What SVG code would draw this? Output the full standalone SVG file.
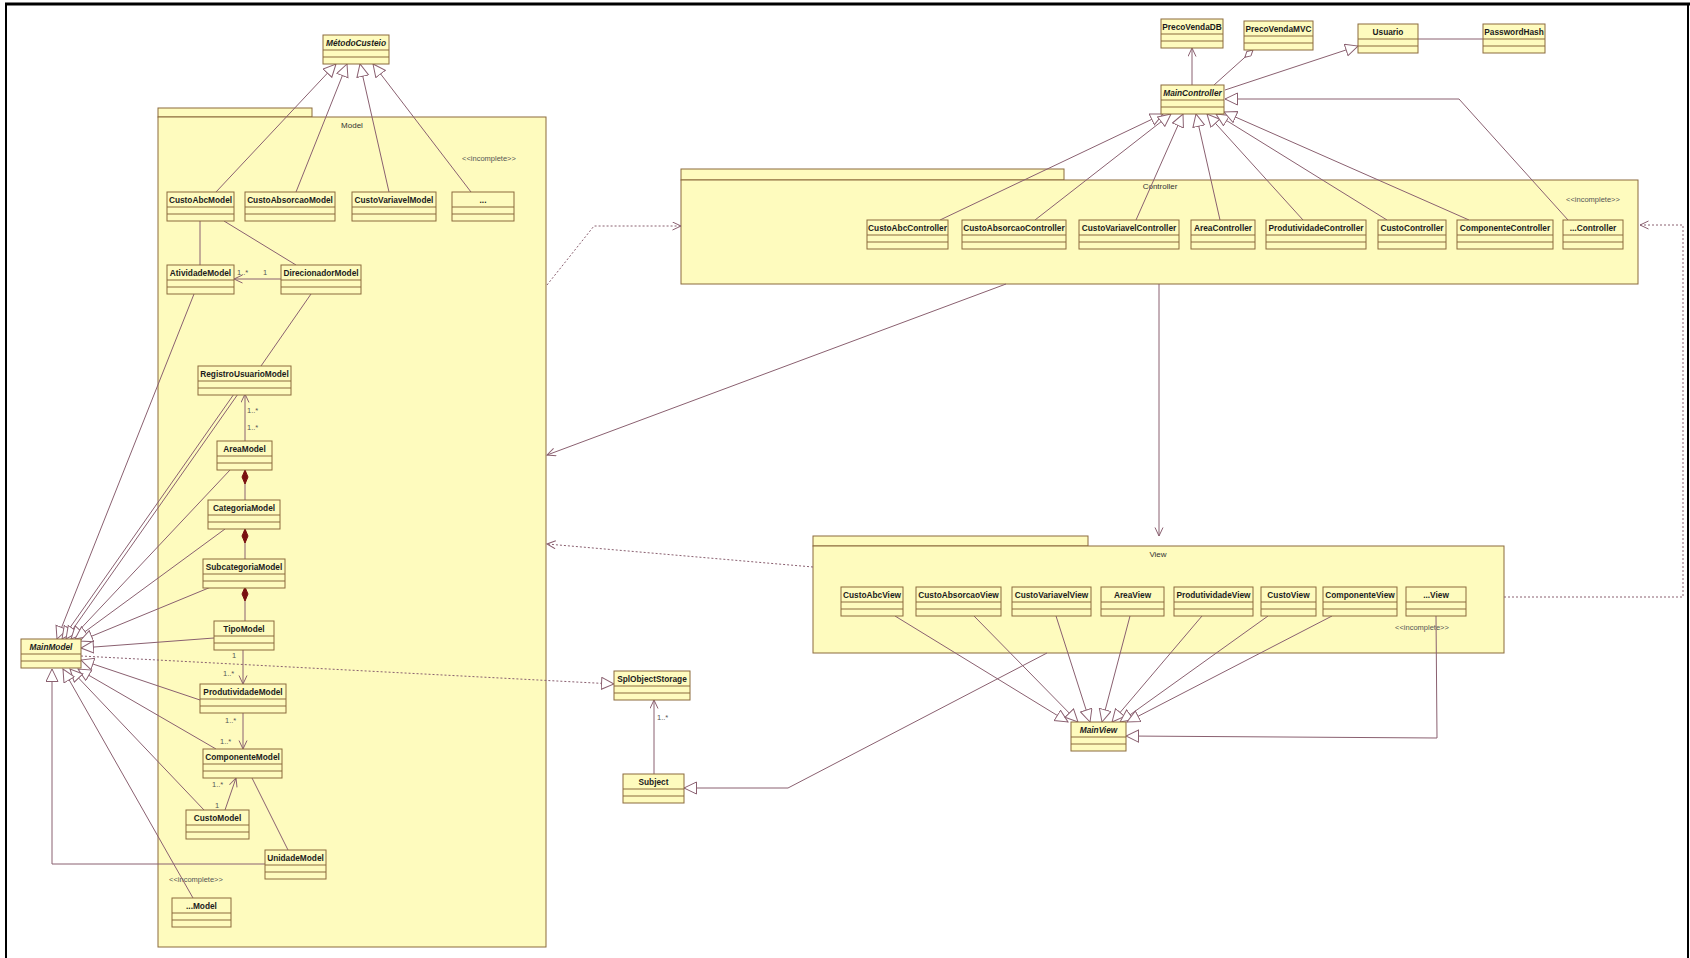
<svg xmlns="http://www.w3.org/2000/svg" width="1690" height="958" viewBox="0 0 1690 958">
<defs>
<style>
.pkg{fill:#fefbbe;stroke:#8b6b3d;stroke-width:1}
.cls rect{fill:#fefbbe;stroke:#8b6b3d;stroke-width:1}
.cls line{stroke:#8b6b3d;stroke-width:1}
.cn{font-family:"Liberation Sans",Arial,sans-serif;font-weight:bold;font-size:8.3px;fill:#1c1c1c;text-anchor:middle}
.it{font-style:italic}
.pl{font-family:"Liberation Sans",Arial,sans-serif;font-size:8px;fill:#333;text-anchor:middle}
.st{font-family:"Liberation Sans",Arial,sans-serif;font-size:7.5px;fill:#555;text-anchor:middle}
.ml{font-family:"Liberation Sans",Arial,sans-serif;font-size:7.5px;fill:#555}
.c{fill:none;stroke:#8a6070;stroke-width:1}
.d{stroke-dasharray:2,2}
.gen{marker-end:url(#tri)}
.arr{marker-end:url(#open)}
</style>
<marker id="tri" markerUnits="userSpaceOnUse" markerWidth="14" markerHeight="14" refX="13" refY="6.5" orient="auto" viewBox="0 0 14 14"><path d="M0.5,0.5 L13,6.5 L0.5,12.5 z" fill="#ffffff" stroke="#8a6070" stroke-width="1"/></marker>
<marker id="open" markerUnits="userSpaceOnUse" markerWidth="10" markerHeight="10" refX="9" refY="4.5" orient="auto" viewBox="0 0 10 10"><path d="M0.5,0.5 L9,4.5 L0.5,8.5" fill="none" stroke="#8a6070" stroke-width="1"/></marker>
<marker id="comp" markerUnits="userSpaceOnUse" markerWidth="16" markerHeight="8" refX="0.5" refY="3.5" orient="auto" viewBox="0 0 16 8"><path d="M0.5,3.5 L7.5,0.5 L14.5,3.5 L7.5,6.5 z" fill="#7a1010" stroke="#7a1010" stroke-width="1"/></marker>
<marker id="agg" markerUnits="userSpaceOnUse" markerWidth="14" markerHeight="8" refX="0.5" refY="3.5" orient="auto" viewBox="0 0 14 8"><path d="M0.5,3.5 L6,0.5 L11.5,3.5 L6,6.5 z" fill="#ffffff" stroke="#8a6070" stroke-width="1"/></marker>
</defs>
<rect width="1690" height="958" fill="#ffffff"/>
<g id="frame" fill="none" stroke="#000000">
<line x1="5" y1="4" x2="1690" y2="4" stroke-width="3"/>
<line x1="6" y1="4" x2="6" y2="958" stroke-width="2"/>
<line x1="1688" y1="4" x2="1688" y2="958" stroke-width="2"/>
</g>

<g id="pkg-model">
<rect class="pkg" x="158" y="108" width="154" height="9"/>
<rect class="pkg" x="158" y="117" width="388" height="830"/>
<text class="pl" x="352" y="128">Model</text>
<text class="st" x="489" y="161">&lt;&lt;incomplete&gt;&gt;</text>
<text class="st" x="196" y="882">&lt;&lt;incomplete&gt;&gt;</text>
</g>
<g id="pkg-controller">
<rect class="pkg" x="681" y="169" width="383" height="11"/>
<rect class="pkg" x="681" y="180" width="957" height="104"/>
<text class="pl" x="1160" y="189">Controller</text>
<text class="st" x="1593" y="202">&lt;&lt;incomplete&gt;&gt;</text>
</g>
<g id="pkg-view">
<rect class="pkg" x="813" y="536" width="275" height="10"/>
<rect class="pkg" x="813" y="546" width="691" height="107"/>
<text class="pl" x="1158" y="557">View</text>
<text class="st" x="1422" y="630">&lt;&lt;incomplete&gt;&gt;</text>
</g>

<g id="connectors">
<path class="c gen" d="M216,192 L336,64"/>
<path class="c gen" d="M296,192 L347,64"/>
<path class="c gen" d="M389,192 L360,64"/>
<path class="c gen" d="M471,192 L373,64"/>
<path class="c gen" d="M194,294 L57,639"/>
<path class="c gen" d="M234,394 L62,639"/>
<path class="c gen" d="M238,394 L66,639"/>
<path class="c gen" d="M230,470 L71,639"/>
<path class="c gen" d="M225,529 L75,639"/>
<path class="c gen" d="M211,587 L80,641"/>
<path class="c gen" d="M214,638 L81,648"/>
<path class="c gen" d="M200,700 L81,660"/>
<path class="c gen" d="M216,749 L78,669"/>
<path class="c gen" d="M204,810 L70,669"/>
<path class="c gen" d="M193,898 L63,669"/>
<path class="c gen" d="M265,864 L52,864 L52,669"/>
<path class="c d gen" d="M81,656 L614,684"/>
<path class="c" d="M200,221 L200,265"/>
<path class="c" d="M224,221 L296,265"/>
<path class="c arr" d="M281,279 L234,279"/>
<path class="c" d="M311,294 L261,366"/>
<path class="c arr" d="M245,441 L245,394"/>
<path class="c" d="M245,470 L245,500" marker-start="url(#comp)"/>
<path class="c" d="M245,529 L245,559" marker-start="url(#comp)"/>
<path class="c" d="M245,587 L245,621" marker-start="url(#comp)"/>
<path class="c arr" d="M243,649 L243,684"/>
<path class="c arr" d="M243,713 L243,749"/>
<path class="c arr" d="M225,810 L236,778"/>
<path class="c" d="M252,778 L288,850"/>
<path class="c arr" d="M654,774 L654,700"/>
<path class="c arr" d="M1192,85 L1192,48"/>
<path class="c" d="M1253,50 L1214,85" marker-start="url(#agg)"/>
<path class="c gen" d="M1225,90 L1358,46"/>
<path class="c" d="M1418,39 L1483,39"/>
<path class="c gen" d="M940,220 L1163,114"/>
<path class="c gen" d="M1035,220 L1171,114"/>
<path class="c gen" d="M1136,220 L1183,114"/>
<path class="c gen" d="M1220,220 L1196,114"/>
<path class="c gen" d="M1303,220 L1207,114"/>
<path class="c gen" d="M1387,220 L1216,114"/>
<path class="c gen" d="M1469,220 L1224,112"/>
<path class="c gen" d="M1568,220 L1459,99 L1225,99"/>
<path class="c arr" d="M1006,284 L547,455"/>
<path class="c arr" d="M1159,284 L1159,536"/>
<path class="c d arr" d="M547,285 L594,226 L681,226"/>
<path class="c d arr" d="M813,567 L547,544"/>
<path class="c d arr" d="M1504,597 L1683,597 L1683,225 L1640,225"/>
<path class="c gen" d="M895,616 L1068,722"/>
<path class="c gen" d="M974,616 L1078,722"/>
<path class="c gen" d="M1056,616 L1090,722"/>
<path class="c gen" d="M1130,616 L1102,722"/>
<path class="c gen" d="M1202,616 L1112,722"/>
<path class="c gen" d="M1268,616 L1120,722"/>
<path class="c gen" d="M1332,616 L1127,722"/>
<path class="c gen" d="M1436,616 L1437,738 L1126,736"/>
<path class="c gen" d="M1047,653 L788,788 L684,788"/>
<text class="ml" x="237" y="275">1..*</text>
<text class="ml" x="263" y="275">1</text>
<text class="ml" x="247" y="413">1..*</text>
<text class="ml" x="247" y="430">1..*</text>
<text class="ml" x="232" y="658">1</text>
<text class="ml" x="223" y="676">1..*</text>
<text class="ml" x="225" y="723">1..*</text>
<text class="ml" x="220" y="744">1..*</text>
<text class="ml" x="212" y="787">1..*</text>
<text class="ml" x="215" y="808">1</text>
<text class="ml" x="657" y="720">1..*</text>
</g>

<g id="MetodoCusteio" class="cls"><rect x="323" y="35" width="66" height="29"/><line x1="323" y1="50" x2="389" y2="50"/><line x1="323" y1="57" x2="389" y2="57"/><text class="cn it" x="356" y="46">MétodoCusteio</text></g>
<g id="CustoAbcModel" class="cls"><rect x="167" y="192" width="67" height="29"/><line x1="167" y1="207" x2="234" y2="207"/><line x1="167" y1="214" x2="234" y2="214"/><text class="cn" x="200.5" y="203">CustoAbcModel</text></g>
<g id="CustoAbsorcaoModel" class="cls"><rect x="245" y="192" width="90" height="29"/><line x1="245" y1="207" x2="335" y2="207"/><line x1="245" y1="214" x2="335" y2="214"/><text class="cn" x="290" y="203">CustoAbsorcaoModel</text></g>
<g id="CustoVariavelModel" class="cls"><rect x="352" y="192" width="84" height="29"/><line x1="352" y1="207" x2="436" y2="207"/><line x1="352" y1="214" x2="436" y2="214"/><text class="cn" x="394" y="203">CustoVariavelModel</text></g>
<g id="EtcModel1" class="cls"><rect x="452" y="192" width="62" height="29"/><line x1="452" y1="207" x2="514" y2="207"/><line x1="452" y1="214" x2="514" y2="214"/><text class="cn" x="483" y="203">...</text></g>
<g id="AtividadeModel" class="cls"><rect x="167" y="265" width="67" height="29"/><line x1="167" y1="280" x2="234" y2="280"/><line x1="167" y1="287" x2="234" y2="287"/><text class="cn" x="200.5" y="276">AtividadeModel</text></g>
<g id="DirecionadorModel" class="cls"><rect x="281" y="265" width="80" height="29"/><line x1="281" y1="280" x2="361" y2="280"/><line x1="281" y1="287" x2="361" y2="287"/><text class="cn" x="321" y="276">DirecionadorModel</text></g>
<g id="RegistroUsuarioModel" class="cls"><rect x="198" y="366" width="93" height="29"/><line x1="198" y1="381" x2="291" y2="381"/><line x1="198" y1="388" x2="291" y2="388"/><text class="cn" x="244.5" y="377">RegistroUsuarioModel</text></g>
<g id="AreaModel" class="cls"><rect x="217" y="441" width="55" height="29"/><line x1="217" y1="456" x2="272" y2="456"/><line x1="217" y1="463" x2="272" y2="463"/><text class="cn" x="244.5" y="452">AreaModel</text></g>
<g id="CategoriaModel" class="cls"><rect x="208" y="500" width="72" height="29"/><line x1="208" y1="515" x2="280" y2="515"/><line x1="208" y1="522" x2="280" y2="522"/><text class="cn" x="244" y="511">CategoriaModel</text></g>
<g id="SubcategoriaModel" class="cls"><rect x="203" y="559" width="82" height="29"/><line x1="203" y1="574" x2="285" y2="574"/><line x1="203" y1="581" x2="285" y2="581"/><text class="cn" x="244" y="570">SubcategoriaModel</text></g>
<g id="TipoModel" class="cls"><rect x="214" y="621" width="60" height="29"/><line x1="214" y1="636" x2="274" y2="636"/><line x1="214" y1="643" x2="274" y2="643"/><text class="cn" x="244" y="632">TipoModel</text></g>
<g id="ProdutividadeModel" class="cls"><rect x="200" y="684" width="86" height="29"/><line x1="200" y1="699" x2="286" y2="699"/><line x1="200" y1="706" x2="286" y2="706"/><text class="cn" x="243" y="695">ProdutividadeModel</text></g>
<g id="ComponenteModel" class="cls"><rect x="203" y="749" width="79" height="29"/><line x1="203" y1="764" x2="282" y2="764"/><line x1="203" y1="771" x2="282" y2="771"/><text class="cn" x="242.5" y="760">ComponenteModel</text></g>
<g id="CustoModel" class="cls"><rect x="186" y="810" width="63" height="29"/><line x1="186" y1="825" x2="249" y2="825"/><line x1="186" y1="832" x2="249" y2="832"/><text class="cn" x="217.5" y="821">CustoModel</text></g>
<g id="UnidadeModel" class="cls"><rect x="265" y="850" width="61" height="29"/><line x1="265" y1="865" x2="326" y2="865"/><line x1="265" y1="872" x2="326" y2="872"/><text class="cn" x="295.5" y="861">UnidadeModel</text></g>
<g id="EtcModel2" class="cls"><rect x="172" y="898" width="59" height="29"/><line x1="172" y1="913" x2="231" y2="913"/><line x1="172" y1="920" x2="231" y2="920"/><text class="cn" x="201.5" y="909">...Model</text></g>
<g id="MainModel" class="cls"><rect x="21" y="639" width="60" height="29"/><line x1="21" y1="654" x2="81" y2="654"/><line x1="21" y1="661" x2="81" y2="661"/><text class="cn it" x="51" y="650">MainModel</text></g>
<g id="SplObjectStorage" class="cls"><rect x="614" y="671" width="76" height="29"/><line x1="614" y1="686" x2="690" y2="686"/><line x1="614" y1="693" x2="690" y2="693"/><text class="cn" x="652" y="682">SplObjectStorage</text></g>
<g id="Subject" class="cls"><rect x="623" y="774" width="61" height="29"/><line x1="623" y1="789" x2="684" y2="789"/><line x1="623" y1="796" x2="684" y2="796"/><text class="cn" x="653.5" y="785">Subject</text></g>

<g id="MainController" class="cls"><rect x="1161" y="85" width="63" height="29"/><line x1="1161" y1="100" x2="1224" y2="100"/><line x1="1161" y1="107" x2="1224" y2="107"/><text class="cn it" x="1192.5" y="96">MainController</text></g>
<g id="PrecoVendaDB" class="cls"><rect x="1161" y="19" width="62" height="29"/><line x1="1161" y1="34" x2="1223" y2="34"/><line x1="1161" y1="41" x2="1223" y2="41"/><text class="cn" x="1192" y="30">PrecoVendaDB</text></g>
<g id="PrecoVendaMVC" class="cls"><rect x="1244" y="21" width="69" height="29"/><line x1="1244" y1="36" x2="1313" y2="36"/><line x1="1244" y1="43" x2="1313" y2="43"/><text class="cn" x="1278.5" y="32">PrecoVendaMVC</text></g>
<g id="Usuario" class="cls"><rect x="1358" y="24" width="60" height="29"/><line x1="1358" y1="39" x2="1418" y2="39"/><line x1="1358" y1="46" x2="1418" y2="46"/><text class="cn" x="1388" y="35">Usuario</text></g>
<g id="PasswordHash" class="cls"><rect x="1483" y="24" width="62" height="29"/><line x1="1483" y1="39" x2="1545" y2="39"/><line x1="1483" y1="46" x2="1545" y2="46"/><text class="cn" x="1514" y="35">PasswordHash</text></g>
<g id="CustoAbcController" class="cls"><rect x="867" y="220" width="81" height="29"/><line x1="867" y1="235" x2="948" y2="235"/><line x1="867" y1="242" x2="948" y2="242"/><text class="cn" x="907.5" y="231">CustoAbcController</text></g>
<g id="CustoAbsorcaoController" class="cls"><rect x="962" y="220" width="104" height="29"/><line x1="962" y1="235" x2="1066" y2="235"/><line x1="962" y1="242" x2="1066" y2="242"/><text class="cn" x="1014" y="231">CustoAbsorcaoController</text></g>
<g id="CustoVariavelController" class="cls"><rect x="1079" y="220" width="100" height="29"/><line x1="1079" y1="235" x2="1179" y2="235"/><line x1="1079" y1="242" x2="1179" y2="242"/><text class="cn" x="1129" y="231">CustoVariavelController</text></g>
<g id="AreaController" class="cls"><rect x="1191" y="220" width="64" height="29"/><line x1="1191" y1="235" x2="1255" y2="235"/><line x1="1191" y1="242" x2="1255" y2="242"/><text class="cn" x="1223" y="231">AreaController</text></g>
<g id="ProdutividadeController" class="cls"><rect x="1266" y="220" width="100" height="29"/><line x1="1266" y1="235" x2="1366" y2="235"/><line x1="1266" y1="242" x2="1366" y2="242"/><text class="cn" x="1316" y="231">ProdutividadeController</text></g>
<g id="CustoController" class="cls"><rect x="1378" y="220" width="68" height="29"/><line x1="1378" y1="235" x2="1446" y2="235"/><line x1="1378" y1="242" x2="1446" y2="242"/><text class="cn" x="1412" y="231">CustoController</text></g>
<g id="ComponenteController" class="cls"><rect x="1457" y="220" width="96" height="29"/><line x1="1457" y1="235" x2="1553" y2="235"/><line x1="1457" y1="242" x2="1553" y2="242"/><text class="cn" x="1505" y="231">ComponenteController</text></g>
<g id="EtcController" class="cls"><rect x="1563" y="220" width="60" height="29"/><line x1="1563" y1="235" x2="1623" y2="235"/><line x1="1563" y1="242" x2="1623" y2="242"/><text class="cn" x="1593" y="231">...Controller</text></g>

<g id="CustoAbcView" class="cls"><rect x="841" y="587" width="62" height="29"/><line x1="841" y1="602" x2="903" y2="602"/><line x1="841" y1="609" x2="903" y2="609"/><text class="cn" x="872" y="598">CustoAbcView</text></g>
<g id="CustoAbsorcaoView" class="cls"><rect x="916" y="587" width="85" height="29"/><line x1="916" y1="602" x2="1001" y2="602"/><line x1="916" y1="609" x2="1001" y2="609"/><text class="cn" x="958.5" y="598">CustoAbsorcaoView</text></g>
<g id="CustoVariavelView" class="cls"><rect x="1012" y="587" width="79" height="29"/><line x1="1012" y1="602" x2="1091" y2="602"/><line x1="1012" y1="609" x2="1091" y2="609"/><text class="cn" x="1051.5" y="598">CustoVariavelView</text></g>
<g id="AreaView" class="cls"><rect x="1101" y="587" width="63" height="29"/><line x1="1101" y1="602" x2="1164" y2="602"/><line x1="1101" y1="609" x2="1164" y2="609"/><text class="cn" x="1132.5" y="598">AreaView</text></g>
<g id="ProdutividadeView" class="cls"><rect x="1174" y="587" width="79" height="29"/><line x1="1174" y1="602" x2="1253" y2="602"/><line x1="1174" y1="609" x2="1253" y2="609"/><text class="cn" x="1213.5" y="598">ProdutividadeView</text></g>
<g id="CustoView" class="cls"><rect x="1261" y="587" width="55" height="29"/><line x1="1261" y1="602" x2="1316" y2="602"/><line x1="1261" y1="609" x2="1316" y2="609"/><text class="cn" x="1288.5" y="598">CustoView</text></g>
<g id="ComponenteView" class="cls"><rect x="1323" y="587" width="74" height="29"/><line x1="1323" y1="602" x2="1397" y2="602"/><line x1="1323" y1="609" x2="1397" y2="609"/><text class="cn" x="1360" y="598">ComponenteView</text></g>
<g id="EtcView" class="cls"><rect x="1406" y="587" width="60" height="29"/><line x1="1406" y1="602" x2="1466" y2="602"/><line x1="1406" y1="609" x2="1466" y2="609"/><text class="cn" x="1436" y="598">...View</text></g>
<g id="MainView" class="cls"><rect x="1071" y="722" width="55" height="29"/><line x1="1071" y1="737" x2="1126" y2="737"/><line x1="1071" y1="744" x2="1126" y2="744"/><text class="cn it" x="1098.5" y="733">MainView</text></g>
</svg>
